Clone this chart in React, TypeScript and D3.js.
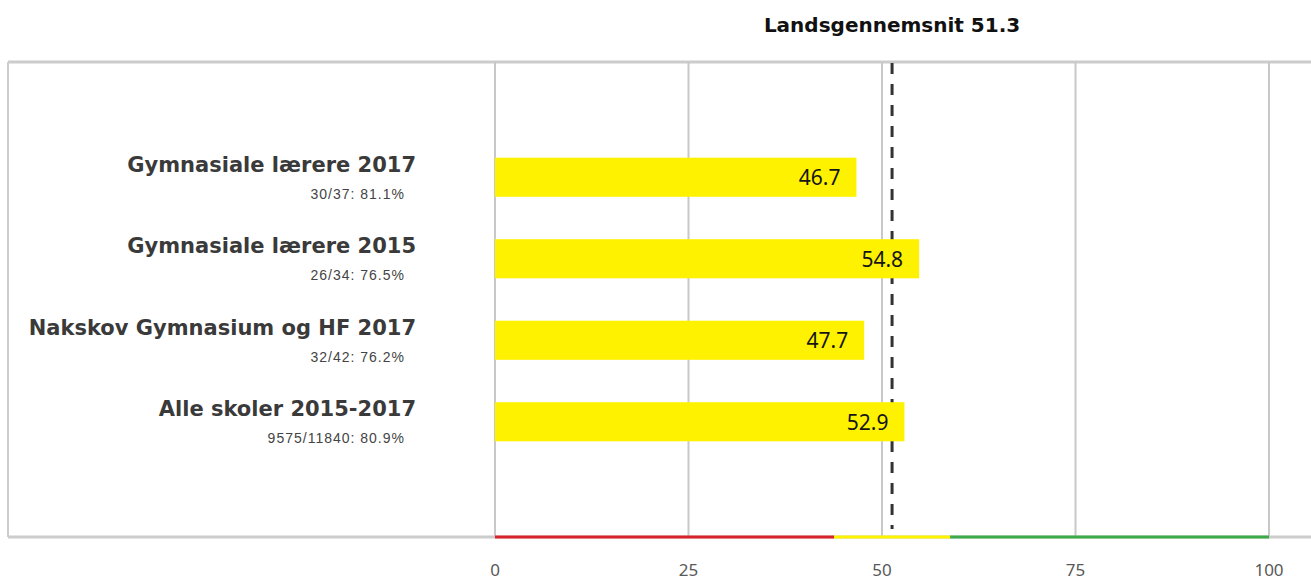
import React from "react";
import { scaleLinear, scaleBand } from "d3";

const categories = [
  "Gymnasiale lærere 2017",
  "Gymnasiale lærere 2015",
  "Nakskov Gymnasium og HF 2017",
  "Alle skoler 2015-2017",
];
const subtitles = ["30/37: 81.1%", "26/34: 76.5%", "32/42: 76.2%", "9575/11840: 80.9%"];
const values = [46.7, 54.8, 47.7, 52.9];
const ticks = [0, 25, 50, 75, 100];
const average = 51.3;
// zones along the axis: below, around and above the national average
const zones = [
  { from: 0, to: 43.8, color: "#d7242a" },
  { from: 43.8, to: 58.8, color: "#fff200" },
  { from: 58.8, to: 100, color: "#3daa4a" },
];

export default function App() {
  const width = 1311;
  const height = 583;
  const frameLeft = 8;
  const top = 62;
  const bottom = 537;

  const x = scaleLinear().domain([0, 100]).range([495, 1269]);
  const y = scaleBand<string>()
    .domain(categories)
    .range([top, bottom])
    .paddingInner(0.52)
    .paddingOuter(1.174);

  const nameFont = "'DejaVu Sans', sans-serif";

  return (
    <svg width={width} height={height} style={{ position: "absolute", left: 0, top: 0 }}>
      <rect width={width} height={height} fill="#fff" />

      {/* frame */}
      <line x1={frameLeft} x2={width} y1={top} y2={top} stroke="#cccccc" strokeWidth={3} />
      <line x1={frameLeft} x2={frameLeft} y1={top} y2={bottom} stroke="#cccccc" strokeWidth={2} />
      <line x1={frameLeft} x2={width} y1={bottom} y2={bottom} stroke="#cccccc" strokeWidth={3} />

      {/* grid */}
      {ticks.map((t) => (
        <line key={t} x1={x(t)} x2={x(t)} y1={top} y2={bottom} stroke="#c8c8c8" strokeWidth={2} />
      ))}

      {/* average line, behind the bars */}
      <line
        x1={x(average)}
        x2={x(average)}
        y1={top + 1}
        y2={529}
        stroke="#333"
        strokeWidth={3}
        strokeDasharray="11 10"
      />
      <text
        x={x(average)}
        y={32}
        textAnchor="middle"
        fontFamily={nameFont}
        fontWeight="bold"
        fontSize={20}
        fill="#111"
      >
        Landsgennemsnit {average}
      </text>

      {/* bars */}
      {categories.map((c, i) => {
        const y0 = y(c) ?? 0;
        const bw = y.bandwidth();
        return (
          <g key={c}>
            <rect x={x(0)} y={y0} width={x(values[i]) - x(0)} height={bw} fill="#fff200" />
            <text
              x={x(values[i]) - 16}
              y={y0 + bw / 2 + 8}
              textAnchor="end"
              fontFamily="'Noto Sans', sans-serif"
              fontSize={21}
              fill="#151515"
            >
              {values[i].toFixed(1)}
            </text>
            <text
              x={416}
              y={y0 + 14}
              textAnchor="end"
              fontFamily={nameFont}
              fontWeight="bold"
              fontSize={21}
              fill="#3a3a3a"
            >
              {c}
            </text>
            <text
              x={405}
              y={y0 + 41}
              textAnchor="end"
              fontFamily="'Liberation Sans', Arial, sans-serif"
              fontSize={14}
              letterSpacing={1}
              fill="#444"
            >
              {subtitles[i]}
            </text>
          </g>
        );
      })}

      {/* coloured zones */}
      {zones.map((z) => (
        <line key={z.color} x1={x(z.from)} x2={x(z.to)} y1={bottom} y2={bottom} stroke={z.color} strokeWidth={3} />
      ))}

      {/* tick labels */}
      {ticks.map((t) => (
        <text
          key={t}
          x={x(t)}
          y={576}
          textAnchor="middle"
          fontFamily="'Noto Sans', sans-serif"
          fontSize={17}
          fill="#595959"
        >
          {t}
        </text>
      ))}
    </svg>
  );
}
